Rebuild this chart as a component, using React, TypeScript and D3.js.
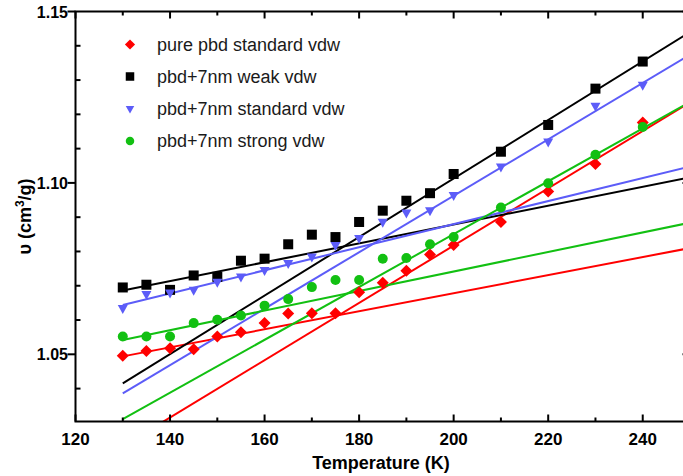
import React from "react";
import * as d3 from "d3";

// Temperatures (K) of the simulation runs
const temperatures = [130, 135, 140, 145, 150, 155, 160, 165, 170, 175, 180, 185, 190, 195, 200, 210, 220, 230, 240];

// Specific volume (cm^3/g) for each system
const purePbdStandard = [1.0496, 1.051, 1.0518, 1.0515, 1.0552, 1.0564, 1.0591, 1.0619, 1.062, 1.062, 1.0681, 1.0709, 1.0744, 1.0791, 1.0819, 1.0886, 1.0975, 1.1055, 1.1176];
const pbd7nmWeak = [1.0695, 1.0703, 1.0688, 1.073, 1.0726, 1.0773, 1.0779, 1.0821, 1.0849, 1.0842, 1.0886, 1.0919, 1.0948, 1.097, 1.1026, 1.1091, 1.1169, 1.1275, 1.1354];
const pbd7nmStandard = [1.0635, 1.0676, 1.068, 1.0688, 1.0712, 1.0727, 1.0746, 1.0766, 1.0785, 1.0819, 1.0839, 1.0887, 1.0914, 1.092, 1.0965, 1.1048, 1.1121, 1.1225, 1.1286];
const pbd7nmStrong = [1.0552, 1.0552, 1.0552, 1.0591, 1.0601, 1.0613, 1.0642, 1.0661, 1.0696, 1.0717, 1.0717, 1.0779, 1.0781, 1.0821, 1.0842, 1.0928, 1.0999, 1.1082, 1.1163];

// Linear fits (glassy / melt branches), evaluated at the fit range ends
const fitRange = [130, 250];
const purePbdGlassFit = [1.0494, 1.081];
const purePbdMeltFit = [1.0232, 1.1235];
const weakGlassFit = [1.0686, 1.1016];
const weakMeltFit = [1.0415, 1.144];
const standardGlassFit = [1.0644, 1.1048];
const standardMeltFit = [1.0386, 1.1374];
const strongGlassFit = [1.0542, 1.0884];
const strongMeltFit = [1.0311, 1.1236];

const seriesNames = ["pure pbd standard vdw", "pbd+7nm weak vdw", "pbd+7nm standard vdw", "pbd+7nm strong vdw"];
const xTickLabels = [120, 140, 160, 180, 200, 220, 240];
const yTickLabels = ["1.05", "1.10", "1.15"];

type Shape = "diamond" | "square" | "triangle" | "circle";

const series = [
  { name: seriesNames[0], values: purePbdStandard, fits: [purePbdGlassFit, purePbdMeltFit], color: "#ff0000", shape: "diamond" as Shape },
  { name: seriesNames[1], values: pbd7nmWeak, fits: [weakGlassFit, weakMeltFit], color: "#000000", shape: "square" as Shape },
  { name: seriesNames[2], values: pbd7nmStandard, fits: [standardGlassFit, standardMeltFit], color: "#5c5cf8", shape: "triangle" as Shape },
  { name: seriesNames[3], values: pbd7nmStrong, fits: [strongGlassFit, strongMeltFit], color: "#12c012", shape: "circle" as Shape },
];

const W = 683;
const H = 476;
const x = d3.scaleLinear().domain([120, 250]).range([75.5, 690]);
const y = d3.scaleLinear().domain([1.0304, 1.15]).range([421.5, 11.5]);

function Marker({ shape, cx, cy, color, s }: { shape: Shape; cx: number; cy: number; color: string; s: number }) {
  if (shape === "diamond") {
    const r = 6 * s;
    return <path d={`M${cx},${cy - r}L${cx + r},${cy}L${cx},${cy + r}L${cx - r},${cy}Z`} fill={color} />;
  }
  if (shape === "square") {
    const h = 5 * s;
    return <rect x={cx - h} y={cy - h} width={2 * h} height={2 * h} fill={color} />;
  }
  if (shape === "triangle") {
    const hw = 5 * s;
    const hh = 9 * s;
    return <path d={`M${cx - hw},${cy - hh / 3}L${cx + hw},${cy - hh / 3}L${cx},${cy + (2 * hh) / 3}Z`} fill={color} />;
  }
  return <circle cx={cx} cy={cy} r={5 * s} fill={color} />;
}

export default function App() {
  const line = d3
    .line<[number, number]>()
    .x((d) => x(d[0]))
    .y((d) => y(d[1]));

  const xMajor = d3.range(120, 251, 20);
  const xMinor = d3.range(130, 251, 20);
  const yMajor = [1.05, 1.1, 1.15];
  const yMinor = d3.range(1.04, 1.145, 0.01).filter((v) => Math.abs(v - 1.05) > 1e-6 && Math.abs(v - 1.1) > 1e-6);

  const left = x(120);
  const right = x(250);
  const top = y(1.15);
  const bottom = y(1.0304);

  const legendY = [44.5, 76.5, 108.5, 141];

  return (
    <svg width={W} height={H} style={{ position: "absolute", left: 0, top: 0, background: "#fff" }} fontFamily="'Liberation Sans', Arial, sans-serif">
      <defs>
        <clipPath id="plot-clip">
          <rect x={left} y={top} width={right - left} height={bottom - top} />
        </clipPath>
      </defs>

      {/* fit lines */}
      <g clipPath="url(#plot-clip)" fill="none" strokeWidth={2}>
        {series.map((s) =>
          s.fits.map((f, i) => (
            <path
              key={s.name + i}
              d={line([
                [fitRange[0], f[0]],
                [fitRange[1], f[1]],
              ]) as string}
              stroke={s.color}
            />
          ))
        )}
      </g>

      {/* data points */}
      <g clipPath="url(#plot-clip)">
        {series.map((s) =>
          s.values.map((v, i) => (
            <Marker key={s.name + i} shape={s.shape} cx={x(temperatures[i])} cy={y(v)} color={s.color} s={1} />
          ))
        )}
      </g>

      {/* frame */}
      <rect x={left} y={top} width={right - left} height={bottom - top} fill="none" stroke="#000" strokeWidth={2} />

      {/* x ticks (inward, bottom and top) */}
      <g stroke="#000" strokeWidth={2}>
        {xMajor.map((t) => (
          <g key={"xM" + t}>
            <line x1={x(t)} x2={x(t)} y1={bottom} y2={bottom - 7} />
            <line x1={x(t)} x2={x(t)} y1={top} y2={top + 7} />
          </g>
        ))}
        {xMinor.map((t) => (
          <g key={"xm" + t}>
            <line x1={x(t)} x2={x(t)} y1={bottom} y2={bottom - 4} />
            <line x1={x(t)} x2={x(t)} y1={top} y2={top + 4} />
          </g>
        ))}
        {yMajor.map((v) => (
          <g key={"yM" + v}>
            <line x1={left} x2={left - 8} y1={y(v)} y2={y(v)} />
            <line x1={right} x2={right - 7.5} y1={y(v)} y2={y(v)} />
          </g>
        ))}
        {yMinor.map((v) => (
          <line key={"ym" + v} x1={left} x2={left + 5} y1={y(v)} y2={y(v)} />
        ))}
      </g>

      {/* tick labels */}
      <g fontWeight="bold" fontSize={17} fill="#000" textAnchor="middle">
        {xTickLabels.map((t) => (
          <text key={"xl" + t} x={x(t)} y={445}>
            {t}
          </text>
        ))}
      </g>
      <g fontWeight="bold" fontSize={16} fill="#000" textAnchor="end">
        {yTickLabels.map((t) => (
          <text key={"yl" + t} x={68} y={y(+t) + 6}>
            {t}
          </text>
        ))}
      </g>

      {/* axis titles */}
      <text x={381} y={469} textAnchor="middle" fontWeight="bold" fontSize={18}>
        Temperature (K)
      </text>
      <text transform={`translate(31,${(top + bottom) / 2}) rotate(-90)`} textAnchor="middle" fontWeight="bold" fontSize={18}>
        υ (cm<tspan dy={-7} fontSize={12}>3</tspan>
        <tspan dy={7}>/g)</tspan>
      </text>

      {/* legend */}
      <g>
        {series.map((s, i) => (
          <g key={"lg" + i}>
            <Marker shape={s.shape} cx={130} cy={legendY[i]} color={s.color} s={0.85} />
            <text x={157} y={legendY[i] + 6} fontSize={18} fill="#1a1a1a">
              {s.name}
            </text>
          </g>
        ))}
      </g>
    </svg>
  );
}
